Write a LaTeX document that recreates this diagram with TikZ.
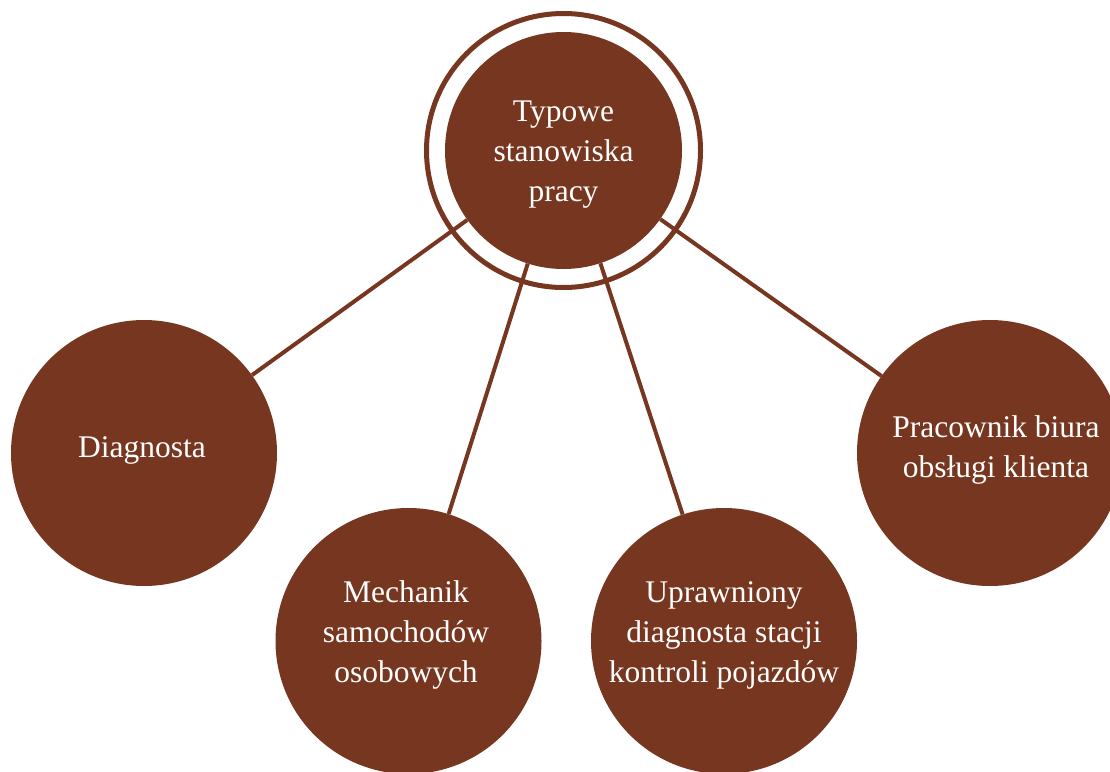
\documentclass[tikz,border=0pt]{standalone}
\usepackage{fontspec}
\setmainfont{Liberation Serif}
\definecolor{brown1}{RGB}{119,54,31}
\begin{document}
\begin{tikzpicture}[x=1pt,y=-1pt,
  bubble/.style={circle,fill=brown1,inner sep=0pt,minimum size=266pt},
  hub/.style={circle,fill=brown1,inner sep=0pt,minimum size=237pt},
  label text/.style={text=white,align=center,inner sep=0pt,font=\fontsize{31.5}{40}\selectfont},
  link/.style={draw=brown1,line width=4pt}]
\useasboundingbox (0,0) rectangle (1110,771);
\clip (0,0) rectangle (1110,771);
\node[hub] (c0) at (563.5,150.5) {};
\draw[brown1,line width=5pt] (c0.center) circle[radius=137pt];
\node[bubble] (c1) at (144,453) {};
\node[bubble] (c2) at (408.5,641) {};
\node[bubble] (c3) at (724,641) {};
\node[bubble] (c4) at (990,453) {};
\draw[link] (c0) -- (c1);
\draw[link] (c0) -- (c2);
\draw[link] (c0) -- (c3);
\draw[link] (c0) -- (c4);
\node[label text] (t0) at (563.5,155) {Typowe\\stanowiska\\pracy};
\node[label text] (t1) at (142,450) {Diagnosta};
\node[label text] (t2) at (406,635) {Mechanik\\samochodów\\osobowych};
\node[label text] (t3) at (724,635) {Uprawniony\\diagnosta stacji\\kontroli pojazdów};
\node[label text] (t4) at (996,450) {Pracownik biura\\obsługi klienta};
\end{tikzpicture}
\end{document}
